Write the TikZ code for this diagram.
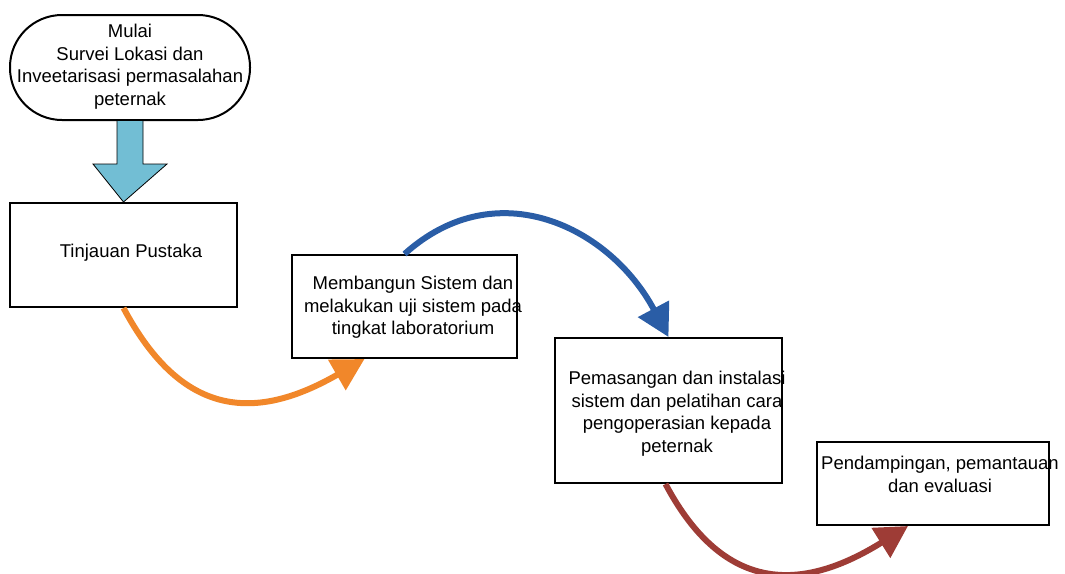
\documentclass[tikz,border=0pt]{standalone}
\usepackage{fontspec}
\setmainfont{Liberation Sans}
\usetikzlibrary{arrows.meta,calc}
\definecolor{arrOrange}{RGB}{241,135,42}
\definecolor{arrBlue}{RGB}{42,93,166}
\definecolor{arrRed}{RGB}{158,60,54}
\definecolor{blockFill}{RGB}{114,190,212}
\begin{document}
\begin{tikzpicture}[x=1pt,y=1pt,
  box/.style={draw=black,line width=2pt,minimum width=#1,inner sep=0pt},
  txt/.style={align=center,font=\fontsize{18.5}{22.5}\selectfont,inner sep=0pt},
  curved/.style={line width=6pt,-{Triangle[length=32pt,width=34pt]}},
]
\useasboundingbox (0,0) rectangle (1065,-573);
% boxes
\node[box=240pt,minimum height=105pt,rounded corners=52pt] (start) at (130,-67.5) {};
\node[box=227pt,minimum height=104pt] (tin) at (123.5,-255) {};
\node[box=225pt,minimum height=103pt] (mem) at (404.5,-306.5) {};
\node[box=227pt,minimum height=145pt] (pem) at (668.5,-410.5) {};
\node[box=232pt,minimum height=83pt] (pen) at (933,-483.5) {};
% texts
\node[txt] (startt) at (130,-66.5) {Mulai\\Survei Lokasi dan\\Inveetarisasi permasalahan\\peternak};
\node[txt] (tint) at (131,-253) {Tinjauan Pustaka};
\node[txt] (memt) at (413,-307.5) {Membangun Sistem dan\\melakukan uji sistem pada\\tingkat laboratorium};
\node[txt] (pemt) at (677,-413.5) {Pemasangan dan instalasi\\sistem dan pelatihan cara\\pengoperasian kepada\\peternak};
\node[txt] (pent) at (940,-474.5) {Pendampingan, pemantauan\\dan evaluasi};
% block arrow
\draw[fill=blockFill,draw=black,line width=0.8pt]
  ([xshift=-13pt]start.south) -- ([xshift=-13pt,yshift=-43pt]start.south)
  -- ([xshift=-37pt,yshift=-43pt]start.south) -- (tin.north)
  -- ([xshift=37pt,yshift=-43pt]start.south) -- ([xshift=13pt,yshift=-43pt]start.south)
  -- ([xshift=13pt]start.south);
% curved arrows
\draw[curved,arrOrange] (tin.south) to[out=-62,in=-150,looseness=1.3] ([xshift=-40pt]mem.south);
\draw[curved,arrBlue] (mem.north) to[out=42,in=118,looseness=1.15] (pem.north);
\draw[curved,arrRed] ([xshift=-3pt]pem.south) to[out=-62,in=-148,looseness=1.3] ([xshift=-25pt]pen.south);
\end{tikzpicture}
\end{document}
